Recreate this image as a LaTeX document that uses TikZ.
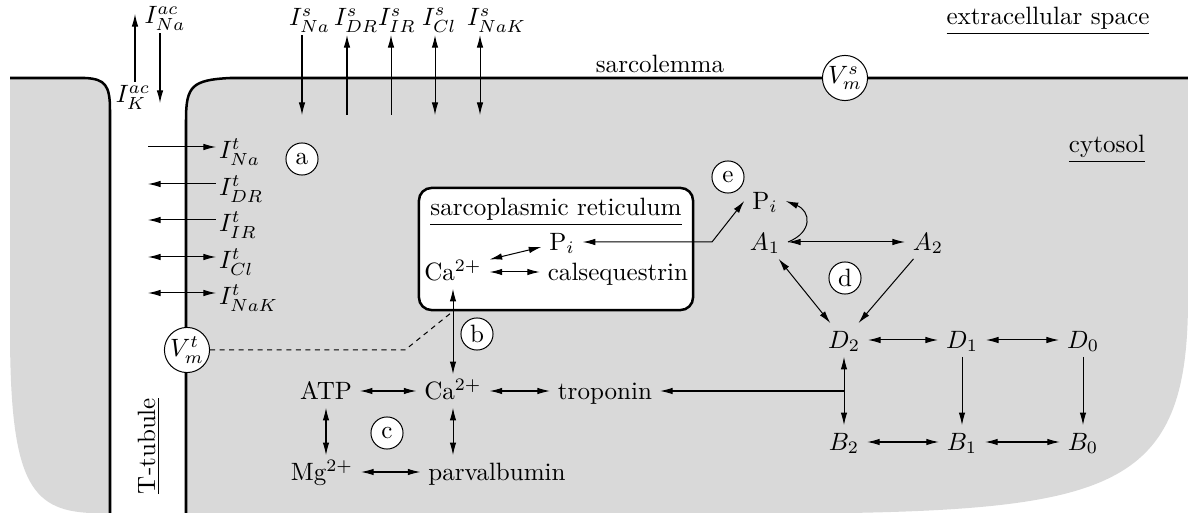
\documentclass[tikz,border=0pt]{standalone}
\usepackage{tikz}
\usetikzlibrary{arrows.meta}
\tikzset{
  species/.style={inner xsep=3pt, inner ysep=2pt, text height=1.8ex, text depth=.3ex},
  tag/.style={circle, draw=black, fill=white, inner sep=0pt, minimum size=12.8pt},
  potential/.style={circle, draw=black, fill=white, inner sep=0pt, minimum size=18pt},
  current/.style={inner sep=1pt},
  membrane/.style={line width=1pt, line join=round},
  cellfill/.style={fill=black!15},
  srbox/.style={rectangle, rounded corners=5pt, draw=black, line width=1pt, fill=white, minimum width=3.844cm, minimum height=1.712cm},
  coupling/.style={dash pattern=on 2pt off 1.8pt},
}

\begin{document}
\begin{tikzpicture}[x=0.01403cm, y=-0.01403cm, >={Latex[length=5pt,width=2.6pt]}]
\useasboundingbox (0,0) rectangle (1188,515);

% cells
\fill[cellfill] (10,78) -- (85,78) .. controls (105,79) and (110,85) .. (110,110) -- (110,513) -- (90,513) .. controls (30,510) and (10,480) .. (10,330) -- cycle;
\fill[cellfill] (186,513) -- (186,120) .. controls (186,86) and (192,80) .. (230,78) -- (1188,78) -- (1188,300) .. controls (1188,480) and (1120,508) .. (850,513) -- cycle;
\draw[membrane] (10,78) -- (85,78) .. controls (105,79) and (110,85) .. (110,110) -- (110,513);
\draw[membrane] (186,513) -- (186,120) .. controls (186,86) and (192,80) .. (230,78) -- (1188,78);

\node (extra) at (1048,21) {\underline{extracellular space}};
\node (sarco) at (660,64) {sarcolemma};
\node (cyto) at (1107,149) {\underline{cytosol}};
\node[rotate=90] (ttub) at (149,446) {\underline{T-tubule}};

\node[potential] (Vms) at (845,78) {$V^s_m$};
\node[potential] (Vmt) at (187,350) {$V^t_m$};

% currents
\node[current] (acNa) at (165,18) {$I^{ac}_{Na}$};
\node[current] (acK) at (133,97) {$I^{ac}_{K}$};
\coordinate (acNa-in) at (160,103);
\coordinate (acK-out) at (135,14);
\draw[->] (acNa-in |- acNa.south) -- (acNa-in);
\draw[->] (acK-out |- acK.north) -- (acK-out);

\foreach \nm/\sub/\xx/\tip in {sNa/Na/302/->, sDR/DR/347/<-, sIR/IR/391/<-, sCl/Cl/435/<->, sNaK/NaK/480/<->}{
  \node[current, anchor=west] (\nm) at (\xx-16,20) {$I^s_{\sub}$};
  \coordinate (\nm-in) at (\xx,115);
  \draw[\tip] (\nm-in |- \nm.south) -- (\nm-in);
}

\foreach \nm/\sub/\yy/\tip in {tNa/Na/147/->, tDR/DR/184/<-, tIR/IR/220/<-, tCl/Cl/257/<->, tNaK/NaK/293/<->}{
  \coordinate (\nm-out) at (148,\yy);
  \node[current, anchor=west, yshift=-2pt] (\nm) at (216,\yy) {$I^t_{\sub}$};
  \draw[\tip] (\nm-out) -- (\nm-out -| \nm.west);
}

% sarcoplasmic reticulum
\node[srbox] (sr) at (556,249) {};
\node (srlabel) at (556,212) {\underline{sarcoplasmic reticulum}};
\node[species] (piSR) at (562,242) {P$_i$};
\node[species] (caSR) at (453,272) {Ca$^{2+}$};
\node[species] (csq) at (618,272) {calsequestrin};

% cytosol species
\node[species] (cac) at (453,391) {Ca$^{2+}$};
\node[species] (atp) at (326,391) {ATP};
\node[species] (trop) at (605,391) {troponin};
\node[species] (mg) at (322,472) {Mg$^{2+}$};
\node[species] (parv) at (497,472) {parvalbumin};
\node[species] (piC) at (765,201) {P$_i$};
\node[species] (A1) at (765,242) {$A_1$};
\node[species] (A2) at (928,242) {$A_2$};
\node[species] (D2) at (844,340) {$D_2$};
\node[species] (D1) at (962,340) {$D_1$};
\node[species] (D0) at (1083,340) {$D_0$};
\node[species] (B2) at (844,442) {$B_2$};
\node[species] (B1) at (962,442) {$B_1$};
\node[species] (B0) at (1083,442) {$B_0$};

\node[tag] (ta) at (302,159) {a};
\node[tag] (tb) at (477,334) {b};
\node[tag] (tc) at (387,433) {c};
\node[tag] (td) at (845,278) {d};
\node[tag] (te) at (728,177) {e};

% connectors
\coordinate (pkink) at (712,242);
\coordinate (kink) at (405,350);
\draw[coupling] (Vmt) -- (kink) -- (caSR |- sr.south);
\draw[<->] (caSR) -- (csq);
\draw[<->] ([yshift=5pt]caSR.east) -- ([yshift=-2pt]piSR.west);
\draw[<->] (piSR) -- (pkink) -- (piC.west);
\draw[<->] (caSR) -- (cac);
\draw[<->] (atp) -- (cac);
\draw[<->] (cac) -- (trop);
\draw[<->] (atp) -- (atp |- mg.north);
\draw[<->] (cac) -- (cac |- parv.north);
\draw[<->] (mg) -- (parv);

\draw[<->] (A1) -- (A2);
\draw[->] (A1.east) .. controls +(25,-10) and +(25,10) .. (piC.east);
\draw[<->] (A1) -- (D2);
\draw[->] (A2) -- (D2);
\draw[<->] (D2) -- (D1);
\draw[<->] (D1) -- (D0);
\draw[<->] (B2) -- (B1);
\draw[<->] (B1) -- (B0);
\draw[<->] (D2) -- (B2);
\draw[->] (D1) -- (B1);
\draw[->] (D0) -- (B0);
\coordinate (tjoin) at (D2 |- trop);
\draw[->] (tjoin) -- (trop);
\end{tikzpicture}
\end{document}
